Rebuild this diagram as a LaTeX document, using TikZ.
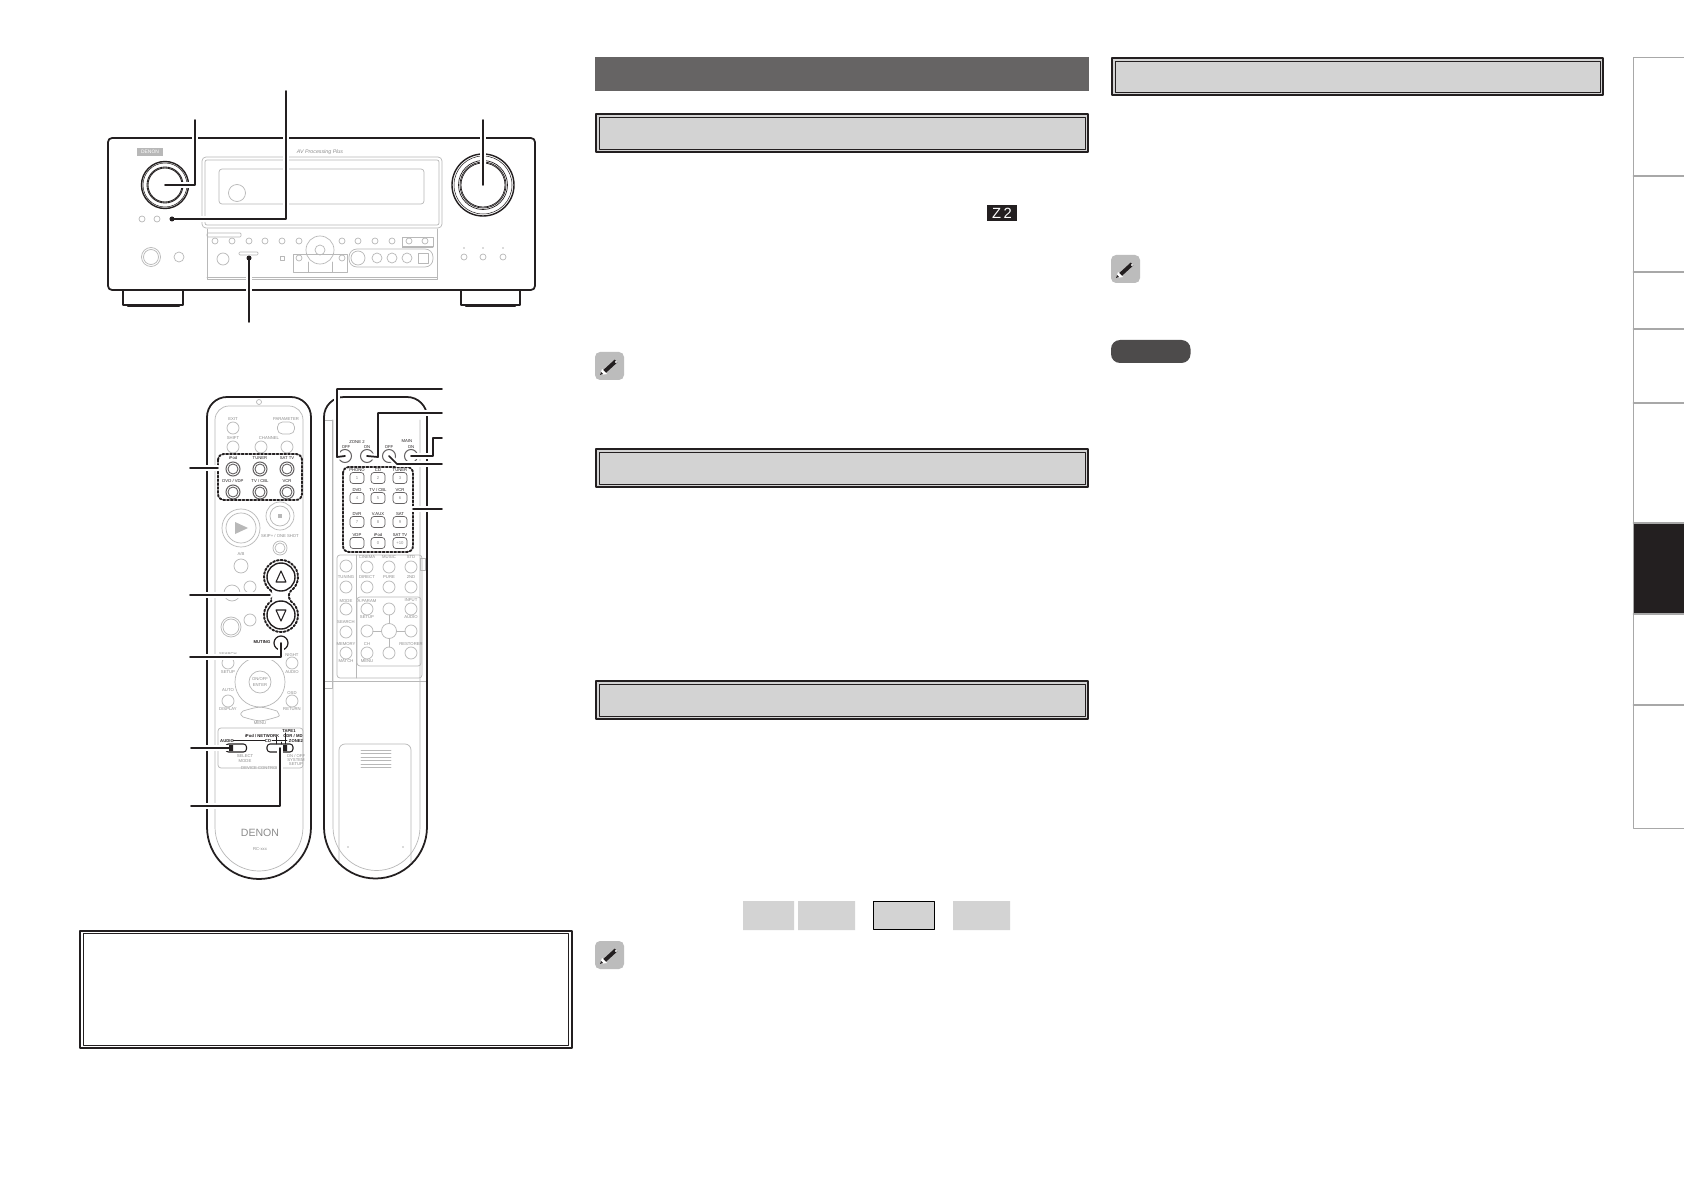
\documentclass[tikz,border=0pt]{standalone}
\usepackage{fontspec}
\setsansfont{Liberation Sans}
\definecolor{ink}{HTML}{231F20}
\definecolor{rule}{gray}{0.72}
\definecolor{labeltxt}{gray}{0.55}
\definecolor{boxgray}{HTML}{D3D3D3}
\definecolor{bannergray}{HTML}{666464}
\definecolor{pillgray}{HTML}{4D4B4B}
\definecolor{tabgray}{HTML}{A8A8A8}
\definecolor{pencilgray}{HTML}{BCBCBC}
\tikzset{
	faint/.style={draw=rule,line width=.2pt},
	body/.style={draw=ink,line width=.5pt},
	callout/.style={draw=ink,line width=.5pt,preaction={draw=white,line width=1.7pt}},
	dots/.style={draw=ink,line width=.55pt,dash pattern=on .55pt off .55pt},
	btn/.style={circle,faint,inner sep=0pt,minimum size=.12cm},
	mini/.style={circle,faint,inner sep=0pt,minimum size=.06cm},
	ring/.style={circle,draw=ink!70,line width=.3pt,inner sep=0pt,minimum size=.14cm},
	ringin/.style={circle,draw=ink!70,line width=.25pt,inner sep=0pt,minimum size=.1cm},
	numkey/.style={rectangle,rounded corners=.03cm,faint,inner sep=0pt,minimum width=.14cm,minimum height=.11cm,text=labeltxt,font=\sffamily\fontsize{1.2}{1.5}\selectfont},
	lbl/.style={inner sep=0pt,text=labeltxt,font=\sffamily\fontsize{1.2}{1.5}\selectfont},
	lbldark/.style={inner sep=0pt,text=ink,font=\sffamily\bfseries\fontsize{1.2}{1.5}\selectfont},
	tabline/.style={draw=tabgray,line width=.55pt},
}
\def\headbox(#1,#2,#3,#4){
	\draw[draw=ink,fill=boxgray,line width=.65pt] (#1+1,#2+1) rectangle (#3-1,#4-1);
	\draw[draw=ink,line width=.28pt] (#1+4,#2+4) rectangle (#3-4,#4-4);
}
\def\notepencil(#1,#2){
	\begin{scope}[shift={(#1,#2)}]
		\fill[pencilgray,rounded corners=.05cm] (0,0) rectangle (29,28);
		\draw[ink,line width=1.1pt,line cap=butt] (9,20)--(21,9);
		\fill[white] (5,23)--(7,17)--(12,22)--cycle;
		\fill[ink] (5,23)--(6,20)--(8,22)--cycle;
		\fill[white] (21,10) circle (1.2);
	\end{scope}
}
\begin{document}
\begin{tikzpicture}[x=.01cm,y=-.01cm,>=stealth,line join=round,line cap=round]
	\useasboundingbox (0,0) rectangle (1684,1191);
	\fill[white] (0,0) rectangle (1684,1191);

	% receiver
	\draw[body,rounded corners=.04cm] (108,138) rectangle (535,290);
	\draw[body] (123,290)--(123,305)--(183,305)--(183,290);
	\draw[body] (461,290)--(461,305)--(520,305)--(520,290);
	\draw[ink,line width=.7pt] (128,306)--(179,306) (466,306)--(515,306);
	\node[fill=rule,text=white,inner sep=0pt,minimum width=.25cm,minimum height=.07cm,font=\sffamily\fontsize{1.4}{1.5}\selectfont] (logo) at (150,152) {DENON};
	\node[lbl,font=\sffamily\itshape\fontsize{1.5}{2}\selectfont] (tagline) at (320,152) {AV Processing Plus};
	\foreach \d/\w [count=\n] in {47/.4,44/.15,36/.25,34/.25}
		\node[circle,draw=ink,line width=\w pt,inner sep=0pt,minimum size=\d*.01cm] (volL\n) at (165,185) {};
	\foreach \d/\w [count=\n] in {62/.4,58/.15,49/.2,46/.2,44/.2}
		\node[circle,draw=ink,line width=\w pt,inner sep=0pt,minimum size=\d*.01cm] (volR\n) at (483,185) {};
	\draw[faint,rounded corners=.04cm] (202,157) rectangle (442,228);
	\draw[faint,rounded corners=.02cm] (205,160) rectangle (439,225);
	\draw[faint,rounded corners=.03cm] (219,169) rectangle (424,204);
	\node[circle,faint,inner sep=0pt,minimum size=.17cm] (lens) at (237,193) {};
	\draw[faint] (207,229)--(207,279)--(437,279)--(437,229) (207,277)--(437,277);
	\draw[faint,rounded corners=.01cm] (207,233) rectangle (241,237);
	\foreach \x [count=\n] in {142,157}
		\node[mini] (fp\n) at (\x,219) {};
	\foreach \x [count=\n] in {215,232,249,265,282,299,342,358,375,392,409,425}
		\node[mini] (row\n) at (\x,241) {};
	\draw[faint] (402,247)--(402,237)--(433,237)--(433,247);
	\fill[rule] (402,246) rectangle (433,248);
	\node[circle,faint,inner sep=0pt,minimum size=.28cm] (pad) at (320,250) {};
	\node[circle,faint,inner sep=0pt,minimum size=.1cm] (padin) at (320,250) {};
	\draw[faint] (293,254) rectangle (347,272) (308,262)--(308,272) (332,262)--(332,272);
	\foreach \x [count=\n] in {299,342}
		\node[mini] (low\n) at (\x,258) {};
	\node[rectangle,faint,inner sep=0pt,minimum size=.04cm] (sq) at (282,258) {};
	\node[circle,faint,inner sep=0pt,minimum size=.19cm] (phones) at (151,257) {};
	\node[circle,faint,inner sep=0pt,minimum size=.15cm] (phonesin) at (151,257) {};
	\node[circle,faint,inner sep=0pt,minimum size=.1cm] (mic) at (179,257) {};
	\node[circle,faint,inner sep=0pt,minimum size=.12cm] (jack) at (223,259) {};
	\draw[faint,rounded corners=.01cm] (239,252) rectangle (258,255);
	\draw[faint,rounded corners=.08cm] (349,249) rectangle (433,267);
	\node[circle,faint,inner sep=0pt,minimum size=.14cm] (svid) at (358,258) {};
	\foreach \x [count=\n] in {377,392,407}
		\node[circle,faint,inner sep=0pt,minimum size=.1cm] (rca\n) at (\x,258) {};
	\node[rectangle,faint,inner sep=0pt,minimum size=.1cm] (opt) at (423,258) {};
	\foreach \x [count=\n] in {464,483,503}{
		\node[mini] (right\n) at (\x,257) {};
		\fill[rule] (\x,248) circle (.8);
	}
	\coordinate (power) at (172,219);
	\coordinate (ext) at (249,258);
	\coordinate (powerfree) at (286,91);
	\coordinate (volLfree) at (195,120);
	\coordinate (volRfree) at (483,120);
	\coordinate (extfree) at (249,322);
	\draw[callout] (volL1.center)-|(volLfree);
	\draw[callout] (power)-|(powerfree);
	\draw[callout] (volR1.center)--(volRfree);
	\draw[callout] (ext)--(extfree);
	\node[circle,fill=ink,inner sep=0pt,minimum size=.05cm] (powerdot) at (power) {};
	\node[circle,fill=ink,inner sep=0pt,minimum size=.05cm] (extdot) at (ext) {};

	% remote, front
	\draw[faint] (215,827)--(215,420) arc (180:270:14)--(289,406) arc (270:360:14)--(303,827) arc (0:180:44);
	\node[circle,faint,inner sep=0pt,minimum size=.05cm] (irled) at (259,402) {};
	\foreach \x/\y/\t [count=\n] in {233/419/EXIT,286/419/PARAMETER,233/438/SHIFT,269/438/CHANNEL,280/536/{SKIP+ / ONE SHOT},241/554/{A/B},
		228/654/SEARCH,292/655/NIGHT,228/672/SETUP,292/672/AUDIO,228/690/AUTO,228/709/DISPLAY,292/693/OSD,292/709/RETURN,260/723/MENU,260/768/DEVICE CONTROL,260/849/RC-xxx}
		\node[lbl] (txtF\n) at (\x,\y) {\t};
	\foreach \x/\y [count=\n] in {233/428,233/447,261/447,287/447,228/663,292/663,228/701,292/701,250/587,250/620}
		\node[btn] (keyF\n) at (\x,\y) {};
	\node[rectangle,rounded corners=.05cm,faint,inner sep=0pt,minimum width=.17cm,minimum height=.12cm] (param) at (286,428) {};
	% source keys
	\foreach \x/\y/\t [count=\n] in {233/458/iPod,260/458/TUNER,287/458/SAT TV,233/481/{DVD / VDP},260/481/{TV / CBL},287/481/VCR}{
		\node[lbl,text=ink] (srcT\n) at (\x,\y) {\t};
		\node[ring] (src\n) at (\x,\y+11) {};
		\node[ringin] (srcin\n) at (\x,\y+11) {};
	}
	\draw[dots,rounded corners=.06cm] (218,454) rectangle (302,500);
	% transport
	\node[circle,faint,inner sep=0pt,minimum size=.38cm] (play) at (241,528) {};
	\node[circle,faint,inner sep=0pt,minimum size=.3cm] (playin) at (241,528) {};
	\fill[rule] (235,522)--(248,528)--(235,534)--cycle;
	\node[circle,faint,inner sep=0pt,minimum size=.28cm] (stop) at (280,516) {};
	\node[circle,faint,inner sep=0pt,minimum size=.2cm] (stopin) at (280,516) {};
	\fill[rule] (278,514) rectangle (282,518);
	\node[circle,faint,inner sep=0pt,minimum size=.14cm] (skip) at (280,548) {};
	\node[circle,faint,inner sep=0pt,minimum size=.1cm] (skipin) at (280,548) {};
	\node[circle,faint,inner sep=0pt,minimum size=.14cm] (ab) at (241,566) {};
	\node[circle,faint,inner sep=0pt,minimum size=.16cm] (prev) at (232,593) {};
	\node[circle,faint,inner sep=0pt,minimum size=.2cm] (rew) at (231,627) {};
	\node[circle,faint,inner sep=0pt,minimum size=.16cm] (rewin) at (231,627) {};
	% volume
	\draw[dots] (281,577)++(125:17) arc (125:415:17) .. controls (288,596) .. (290.75,601.1) arc (-55:235:17) .. controls (272,596) .. cycle;
	\foreach \y/\n in {577/up,615/dn}
		\node[circle,draw=ink,line width=.4pt,inner sep=0pt,minimum size=.28cm] (vol\n) at (281,\y) {};
	\draw[ink,line width=.3pt] (281,571)--(276,582)--(286,582)--cycle;
	\draw[ink,line width=.3pt] (281,621)--(276,610)--(286,610)--cycle;
	\node[circle,draw=ink,line width=.35pt,inner sep=0pt,minimum size=.14cm] (mute) at (281,643) {};
	\node[lbldark] (mutetxt) at (262,642) {MUTING};
	% enter ring
	\node[circle,faint,inner sep=0pt,minimum size=.5cm] (cursor) at (260,682) {};
	\node[circle,faint,inner sep=0pt,minimum size=.22cm] (enter) at (260,682) [lbl,draw=rule,align=center] {ON/OFF\\ENTER};
	\draw[faint] (243,711) .. controls (260,706) .. (277,711) .. controls (280,716) .. (277,717) .. controls (260,722) .. (243,717) .. controls (240,714) .. (243,711);
	% slide switches
	\draw[faint,rounded corners=.03cm] (218,728) rectangle (303,768);
	\foreach \x/\y/\t [count=\n] in {289/731/TAPE1,293/736/{CDR / MD},296/741/ZONE2,262/736/{iPod / NETWORK},268/741/CD,227/741/AUDIO}
		\node[lbldark] (swT\n) at (\x,\y) {\t};
	\draw[ink,line width=.15pt] (233,740.5)--(265,740.5) (272,740.5)--(287,740.5) (276,737)--(276,744) (281,742)--(281,744) (285,737)--(285,744) (285,733)--(285,737);
	\node[rectangle,rounded corners=.03cm,draw=ink,line width=.3pt,inner sep=0pt,minimum width=.21cm,minimum height=.08cm] (swA) at (236,748) {};
	\node[rectangle,rounded corners=.03cm,draw=ink,line width=.3pt,inner sep=0pt,minimum width=.26cm,minimum height=.08cm] (swB) at (280,748) {};
	\foreach \x/\y/\t [count=\n] in {245/756/SELECT,245/761/MODE,296/756/{ON / OFF},296/760/SYSTEM,296/764/SETUP}
		\node[lbl] (swS\n) at (\x,\y) {\t};
	\coordinate (swAtip) at (232,748);
	\coordinate (swBtip) at (280,748);
	\node[inner sep=0pt,text=labeltxt,font=\sffamily\fontsize{3}{3.5}\selectfont] (brand) at (260,833) {DENON};
	\draw[body] (207,827)--(207,417) arc (180:270:20)--(291,397) arc (270:360:20)--(311,827) arc (0:180:52);

	% remote, back
	\draw[faint] (333,420)--(333,827) arc (180:0:43.5)--(420,420);
	\draw[faint] (332,420)--(324,420) (324,688)--(332,688)--(332,420);
	\draw[faint] (324,681)--(427,681);
	\draw[faint] (420,558) rectangle (425,570);
	\draw[faint] (339,863)--(339,750) arc (180:270:6)--(405,744) arc (270:360:6)--(411,863);
	\foreach \y in {750,753.5,757,760.5,764,767}
		\draw[faint] (361,\y)--(391,\y);
	\fill[rule] (348,847) circle (.8) (403,847) circle (.8);
	\foreach \x/\y/\t [count=\n] in {357/442/ZONE 2,407/441/MAIN,346/447/OFF,367/447/ON,389/447/OFF,411/447/ON}
		\node[lbl,text=ink] (zoneT\n) at (\x,\y) {\t};
	\foreach \x/\n in {345/A,367/B,389/C,411/D}
		\node[circle,draw=ink!70,line width=.3pt,inner sep=0pt,minimum size=.13cm] (zone\n) at (\x,456) {};
	% number keys
	\foreach \y/\k/\a/\b/\c/\d/\e/\f in {478/1/PHONO/CD/TUNER/1/2/3,498/2/DVD/{TV / CBL}/VCR/4/5/6,522/3/DVR/V.AUX/SAT/7/8/9,543/4/VDP/iPod/SAT TV/{ }/0/+10}{
		\node[lbl,text=ink] (numTa\k) at (357,\y-8) {\a};
		\node[lbl,text=ink] (numTb\k) at (378,\y-8) {\b};
		\node[lbl,text=ink] (numTc\k) at (400,\y-8) {\c};
		\node[numkey,draw=ink!70] (numa\k) at (357,\y) {\d};
		\node[numkey,draw=ink!70] (numb\k) at (378,\y) {\e};
		\node[numkey,draw=ink!70] (numc\k) at (400,\y) {\f};
	}
	\draw[dots,rounded corners=.06cm] (343,467) rectangle (413,552);
	% lower panel
	\draw[faint,rounded corners=.03cm] (337,555) rectangle (422,678);
	\draw[faint] (356,555)--(356,678);
	\draw[faint,rounded corners=.03cm] (357,597) rectangle (421,666);
	\foreach \x/\y/\t [count=\n] in {367/557/CINEMA,389/557/MUSIC,411/557/STD,346/577/TUNING,367/577/DIRECT,389/577/PURE,411/577/2ND,346/601/MODE,367/601/A.PARAM,411/600/INPUT,367/617/SETUP,411/617/AUDIO,346/622/SEARCH,346/644/MEMORY,367/644/CH,411/644/RESTORER,346/661/MATCH,367/661/MENU}
		\node[lbl] (panT\n) at (\x,\y) {\t};
	\foreach \x/\y [count=\n] in {367/567,389/567,411/567,367/587,389/587,411/587,346/566,346/587,346/609,367/609,389/609,411/609,367/631,411/631,346/632,346/653,367/653,389/653,411/653}
		\node[btn] (panK\n) at (\x,\y) {};
	\node[btn,minimum size=.15cm] (panOK) at (389,631) {};
	\draw[faint] (389,615)--(389,623.5) (389,638.5)--(389,647) (373,631)--(381.5,631) (396.5,631)--(405,631);
	\draw[body] (324,827)--(324,417) arc (180:270:20)--(407,397) arc (270:360:20)--(427,827) arc (0:180:51.5);
	% back callouts
	\coordinate (zoneAfree) at (442,389);
	\coordinate (zoneAbend) at (337,457);
	\coordinate (zoneBfree) at (442,413);
	\coordinate (zoneBbend) at (378,457);
	\coordinate (zoneDfree) at (442,438);
	\coordinate (zoneDbend) at (433,456);
	\coordinate (zoneCfree) at (442,464);
	\coordinate (zoneCbend) at (397,464);
	\coordinate (numfree) at (442,509);
	\coordinate (numtip) at (413,509);
	\draw[callout] (zoneA.center)--(zoneAbend)--(zoneAbend|-zoneAfree)--(zoneAfree);
	\draw[callout] (zoneB.center)--(zoneBbend)--(zoneBbend|-zoneBfree)--(zoneBfree);
	\draw[callout] (zoneD.center)--(zoneDbend)--(zoneDbend|-zoneDfree)--(zoneDfree);
	\draw[callout] (zoneC.center)--(zoneCbend)--(zoneCfree);
	\draw[callout] (numtip)--(numfree);

	% front callouts
	\coordinate (srcfree) at (190,468);
	\coordinate (srctip) at (218,468);
	\coordinate (volfree) at (190,595);
	\coordinate (voltip) at (270,595);
	\coordinate (mutefree) at (190,657);
	\coordinate (swAfree) at (191,748);
	\coordinate (swBfree) at (191,806);
	\draw[callout] (srcfree)--(srctip);
	\draw[callout] (volfree)--(voltip);
	\draw[callout] (mutefree)-|(mute.center);
	\draw[callout] (swAfree)--(swAtip);
	\draw[callout] (swBfree)-|(swBtip);
	\fill[ink] (229,745) rectangle (233,751) (283,745) rectangle (287,751);

	% footer frame
	\draw[draw=ink,line width=.65pt] (80,931) rectangle (572,1048);
	\draw[draw=ink,line width=.28pt] (83.5,933.5) rectangle (568.5,1045.5);

	% middle column
	\fill[bannergray] (595,57) rectangle (1089,91);
	\headbox(595,113,1089,153)
	\headbox(595,448,1089,488)
	\headbox(595,680,1089,720)
	\fill[ink] (987,205) rectangle (1017,221);
	\node[inner sep=0pt,text=white,font=\sffamily\fontsize{4.2}{4.5}\selectfont] (zonemark) at (1002,213) {Z\,2};
	\notepencil(595,352)
	\notepencil(595,941)
	\fill[boxgray] (743,901) rectangle (794,930) (798,901) rectangle (855,930) (953,901) rectangle (1010,930);
	\draw[draw=black,fill=boxgray,line width=.3pt] (873.5,901.5) rectangle (934.5,929.5);

	% right column
	\headbox(1111,57,1604,96)
	\notepencil(1111,255)
	\fill[pillgray,rounded corners=.09cm] (1111,340) rectangle (1190.5,363);

	% side tabs
	\fill[ink] (1633,523) rectangle (1684,614);
	\draw[tabline] (1684,57.5)--(1633.5,57.5)--(1633.5,828.5)--(1684,828.5);
	\foreach \y in {176,272,329,403,523,614,705}
		\draw[tabline] (1633.5,\y)--(1684,\y);
\end{tikzpicture}
\end{document}
